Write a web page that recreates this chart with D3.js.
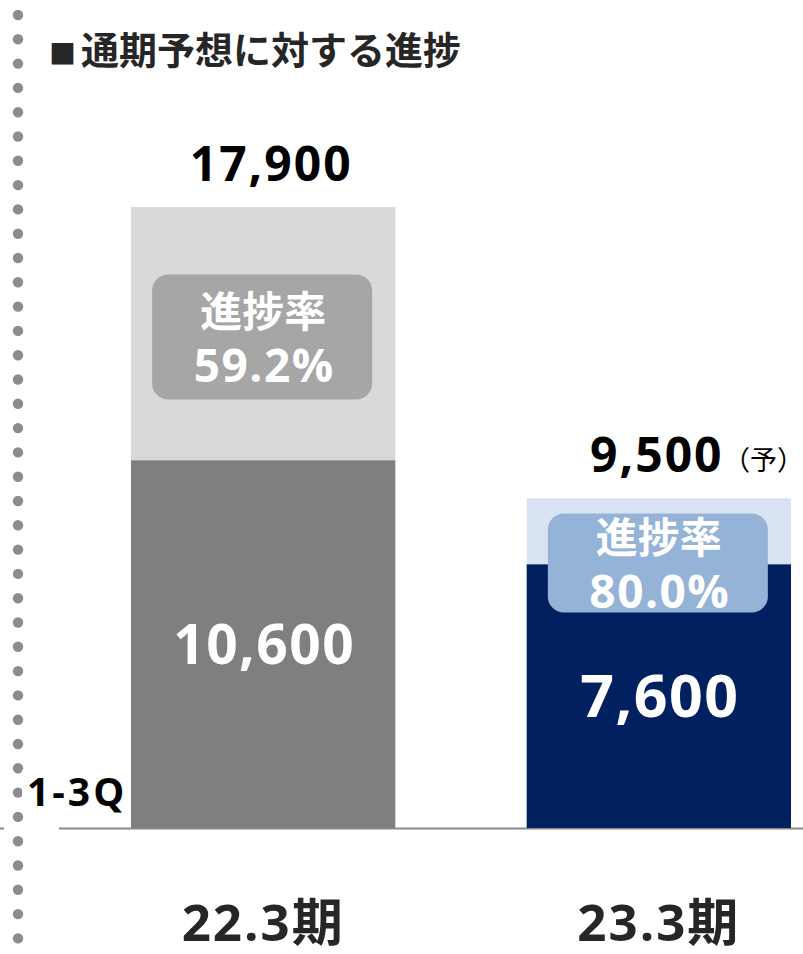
<!DOCTYPE html>
<html>
<head>
<meta charset="utf-8">
<script src="https://cdn.jsdelivr.net/npm/d3@7"></script>
<style>
  html, body { margin: 0; padding: 0; background: #fff; }
  svg { display: block; }
  text { font-family: "Open Sans", "Noto Sans CJK JP", sans-serif; font-weight: 700; }
</style>
</head>
<body>
<svg></svg>
<script>
const width = 803;
const height = 954;

// data
const periods = ["22.3期", "23.3期"];
const fullYear = [17900, 9500];
const q1to3 = [10600, 7600];
const forecastMark = ["", "（予）"];

const titleMark = "■";
const title = "通期予想に対する進捗";
const segLabel = "1-3Q";
const progressLabel = "進捗率";

const colors = {
  light: ["#d9d9d9", "#dae3f3"],
  dark: ["#7f7f7f", "#002060"],
  box: ["#a6a6a6", "#95b3d7"],
};
// progress label boxes (centre y, height)
const boxLayout = [{ cy: 337, h: 125 }, { cy: 563, h: 99 }];

const svg = d3.select("svg").attr("width", width).attr("height", height);

const x = d3.scaleBand().domain(periods).range([131, 791]).paddingInner(0.332).paddingOuter(0);
const y = d3.scaleLinear().domain([0, 17900]).range([828, 207]);

const fmt = d3.format(",");
const pct = d3.format(".1%");

const rows = periods.map((p, i) => ({
  period: p, i, full: fullYear[i], q: q1to3[i], mark: forecastMark[i],
}));

// dotted left rule
svg.append("g")
  .selectAll("circle")
  .data(d3.range(39))
  .join("circle")
  .attr("cx", 18)
  .attr("cy", (d) => 15 + d * 24.3)
  .attr("r", 5.2)
  .attr("fill", "#8c8c8c");

// title
const t = svg.append("text")
  .attr("x", 49)
  .attr("y", 64)
  .attr("fill", "#262626");
t.append("tspan").attr("font-size", 27).text(titleMark);
t.append("tspan").attr("font-size", 38).attr("dx", 5).text(title);

// baseline
svg.append("line")
  .attr("x1", 59).attr("x2", width)
  .attr("y1", y(0) + 0.5).attr("y2", y(0) + 0.5)
  .attr("stroke", "#898989").attr("stroke-width", 2);
svg.append("line")
  .attr("x1", 0).attr("x2", 4)
  .attr("y1", y(0) + 0.5).attr("y2", y(0) + 0.5)
  .attr("stroke", "#898989").attr("stroke-width", 2);

const bars = svg.append("g").selectAll("g").data(rows).join("g");

bars.append("rect")
  .attr("x", (d) => x(d.period))
  .attr("width", x.bandwidth())
  .attr("y", (d) => y(d.full))
  .attr("height", (d) => y(d.q) - y(d.full))
  .attr("fill", (d) => colors.light[d.i]);

bars.append("rect")
  .attr("x", (d) => x(d.period))
  .attr("width", x.bandwidth())
  .attr("y", (d) => y(d.q))
  .attr("height", (d) => y(0) - y(d.q))
  .attr("fill", (d) => colors.dark[d.i]);

// total labels
bars.append("text")
  .attr("x", (d) => x(d.period) + x.bandwidth() / 2 + (d.i === 0 ? 8 : -2))
  .attr("y", (d) => y(d.full) - 26)
  .attr("text-anchor", "middle")
  .attr("font-size", 48)
  .attr("letter-spacing", 2)
  .attr("fill", "#000")
  .text((d) => fmt(d.full));

bars.filter((d) => d.mark)
  .append("text")
  .attr("x", 723)
  .attr("y", (d) => y(d.full) - 28)
  .attr("font-size", 27)
  .style("font-weight", 400)
  .attr("fill", "#000")
  .text((d) => d.mark);

// 1-3Q value labels
bars.append("text")
  .attr("x", (d) => x(d.period) + x.bandwidth() / 2 + 1)
  .attr("y", (d) => (y(d.q) + y(0)) / 2)
  .attr("dy", "0.36em")
  .attr("text-anchor", "middle")
  .attr("font-size", (d) => (d.i === 0 ? 55 : 59))
  .attr("letter-spacing", 1.5)
  .attr("fill", "#fff")
  .text((d) => fmt(d.q));

// progress boxes
bars.append("rect")
  .attr("x", (d) => x(d.period) + x.bandwidth() / 2 - 111)
  .attr("width", 220)
  .attr("y", (d) => boxLayout[d.i].cy - boxLayout[d.i].h / 2)
  .attr("height", (d) => boxLayout[d.i].h)
  .attr("rx", 16)
  .attr("fill", (d) => colors.box[d.i]);

bars.append("text")
  .attr("x", (d) => x(d.period) + x.bandwidth() / 2)
  .attr("y", (d) => boxLayout[d.i].cy - 25)
  .attr("dy", "0.36em")
  .attr("text-anchor", "middle")
  .attr("font-size", 42)
  .attr("fill", "#fff")
  .text(progressLabel);

bars.append("text")
  .attr("x", (d) => x(d.period) + x.bandwidth() / 2 + 1)
  .attr("y", (d) => boxLayout[d.i].cy + 28)
  .attr("dy", "0.36em")
  .attr("text-anchor", "middle")
  .attr("font-size", 46)
  .attr("letter-spacing", 1.5)
  .attr("fill", "#fff")
  .text((d) => pct(d.q / d.full));

// category labels
bars.append("text")
  .attr("x", (d) => x(d.period) + x.bandwidth() / 2)
  .attr("y", 941)
  .attr("text-anchor", "middle")
  .attr("font-size", 51)
  .attr("letter-spacing", 2)
  .attr("fill", "#262626")
  .text((d) => d.period);

// 1-3Q segment label
svg.append("rect")
  .attr("x", 22).attr("y", 770)
  .attr("width", 106).attr("height", 42)
  .attr("fill", "#fff");
svg.append("text")
  .attr("x", 27)
  .attr("y", 806)
  .attr("font-size", 39)
  .attr("letter-spacing", 3)
  .attr("fill", "#000")
  .text(segLabel);
</script>
</body>
</html>
